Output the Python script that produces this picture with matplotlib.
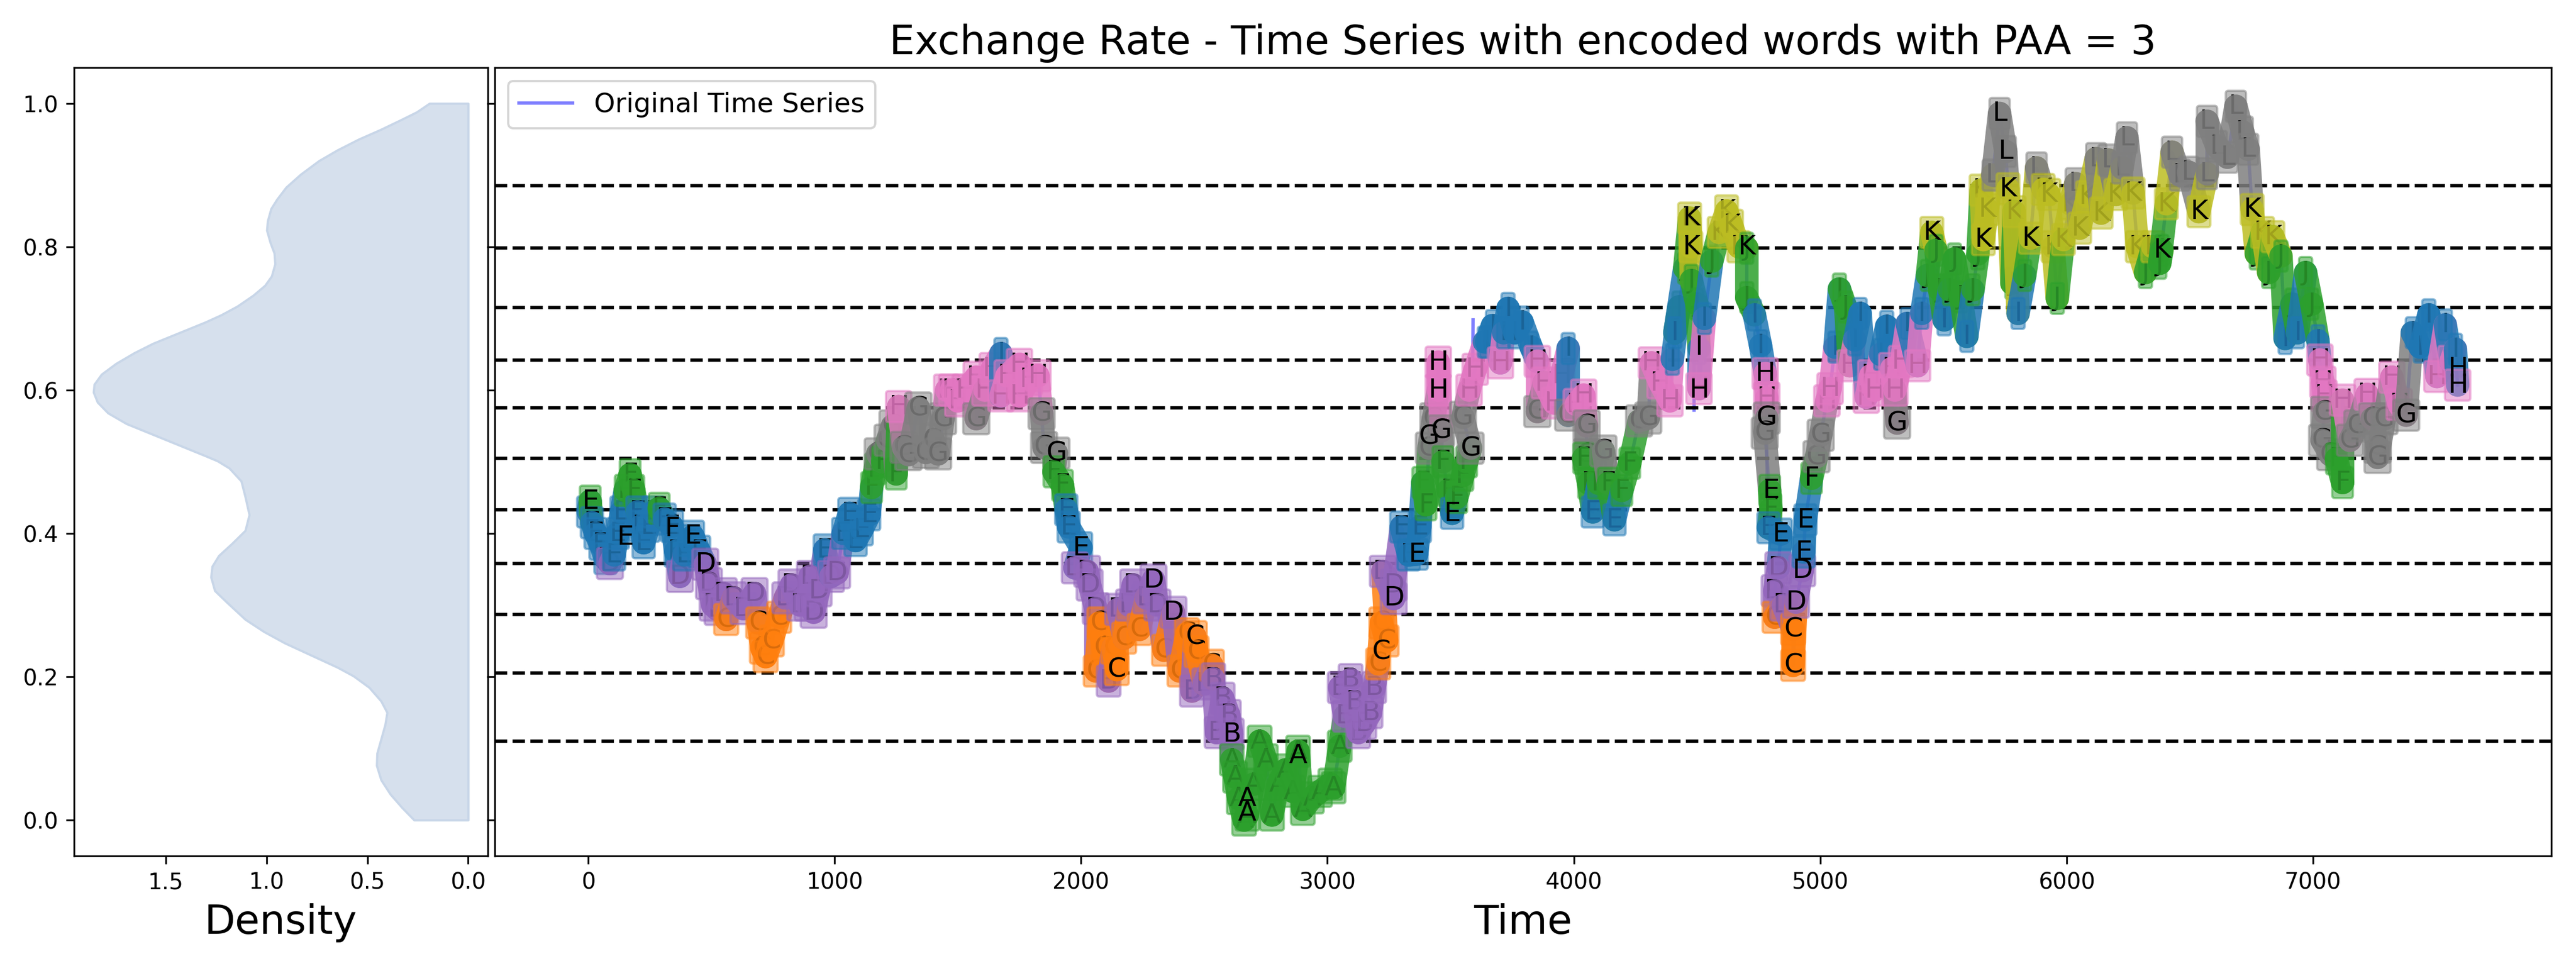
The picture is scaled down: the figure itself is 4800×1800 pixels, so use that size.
import numpy as np
import matplotlib
matplotlib.use("Agg")
import matplotlib.pyplot as plt

title = "Exchange Rate - Time Series with encoded words with PAA = 3"

thresholds = [0.110, 0.205, 0.287, 0.358, 0.433, 0.505, 0.575, 0.642, 0.715, 0.798, 0.885]
letters = ["A", "B", "C", "D", "E", "F", "G", "H", "I", "J", "K", "L"]
letter_colors = ["tab:green", "tab:purple", "tab:orange", "tab:purple", "tab:blue", "tab:green",
                 "tab:gray", "tab:pink", "tab:blue", "tab:green", "tab:olive", "tab:gray"]

time_a = [0, 8, 15, 30, 50, 70, 88, 105, 120, 135, 150, 170, 185, 200, 212, 225, 245, 265, 288, 310,
          340, 355, 372, 390, 410, 425, 450, 475, 490, 505, 525, 550, 560, 590, 630, 675, 690, 705, 720, 745,
          775, 800, 825, 860, 890, 900, 915, 935, 960, 985, 1010, 1035, 1060, 1085, 1110, 1140, 1150, 1165, 1175, 1195,
          1215, 1235, 1250, 1260, 1280, 1300, 1340, 1370, 1400, 1420, 1440, 1455, 1475, 1500, 1530, 1575, 1575, 1610, 1640, 1675,
          1675, 1700, 1750, 1750, 1790, 1825, 1840, 1850, 1900, 1890, 1925, 1940, 1950, 2000, 1975, 2025, 2035, 2060]
value_a = [.43, .445, .415, .40, .385, .365, .358, .37, .40, .43, .46, .482, .46, .43, .41, .387, .41, .43, .435, .42,
           .41, .375, .34, .37, .39, .396, .375, .357, .33, .30, .294, .316, .28, .31, .295, .316, .275, .24, .228, .25,
           .283, .31, .328, .30, .30, .34, .29, .32, .377, .34, .345, .40, .428, .39, .405, .426, .464, .49, .511, .50,
           .53, .55, .483, .577, .52, .51, .575, .513, .53, .511, .56, .60, .60, .585, .60, .618, .56, .60, .63, .651,
           .592, .62, .636, .592, .615, .62, .567, .52, .512, .486, .467, .433, .409, .38, .352, .347, .328, .295]

time_b = [2060, 2075, 2090, 2112, 2130, 2145, 2150, 2175, 2195, 2212, 2237, 2265, 2294, 2310, 2337, 2375, 2400, 2430, 2450, 2462,
          2469, 2500, 2531, 2537, 2550, 2575, 2600, 2612, 2612, 2625, 2640, 2662, 2675, 2700, 2725, 2750, 2775, 2800, 2830, 2860,
          2881, 2900, 2937, 2970, 3012, 3025, 3050, 3070, 3050, 3094, 3110, 3125, 3150, 3175, 3190, 3206, 3219, 3240, 3225, 3269,
          3269, 3300, 3330, 3362, 3375, 3387, 3400, 3412, 3430, 3450, 3450, 3462, 3469, 3490, 3506, 3525, 3550, 3565, 3581, 3550,
          3575, 3600, 3637]
value_b = [.208, .275, .24, .194, .24, .21, .294, .254, .30, .328, .266, .31, .335, .30, .237, .29, .208, .26, .18, .256,
           .235, .19, .216, .197, .122, .17, .146, .12, .084, .06, .03, .00, .007, .05, .11, .084, .007, .05, .07, .04,
           .096, .015, .031, .04, .05, .045, .103, .145, .185, .196, .165, .122, .135, .15, .185, .218, .275, .25, .347, .309,
           .328, .409, .37, .371, .409, .471, .44, .519, .56, .60, .639, .543, .50, .46, .428, .45, .481, .50, .519, .562,
           .60, .629, .667]

time_c = [3646, 3670, 3702, 3715, 3733, 3760, 3790, 3827, 3852, 3852, 3880, 3921, 3950, 3977, 3977, 4010, 4040, 4052, 4052, 4040,
          4060, 4077, 4100, 4120, 4140, 4165, 4195, 4227, 4265, 4302, 4315, 4350, 4390, 4400, 4427, 4410, 4450, 4470, 4475, 4477, 4500,
          4508, 4508, 4530, 4560, 4590, 4620, 4640, 4670, 4702, 4702, 4733, 4758, 4777, 4783, 4783, 4775, 4795, 4800, 4790, 4840,
          4830, 4815, 4815, 4850, 4890, 4890, 4902, 4927, 4933, 4940, 4965, 4985, 5002, 5027, 5040, 5060]
value_c = [.667, .69, .638, .68, .714, .68, .695, .66, .64, .57, .61, .582, .62, .658, .565, .58, .593, .55, .51, .505,
           .47, .43, .47, .515, .47, .419, .46, .498, .557, .561, .638, .61, .585, .643, .716, .68, .77, .84, .80, .753, .72,
           .658, .602, .70, .78, .82, .85, .83, .80, .798, .729, .705, .662, .623, .589, .561, .54, .46, .434, .408, .399,
           .352, .32, .283, .30, .266, .216, .304, .348, .374, .419, .477, .507, .537, .585, .602, .66]

time_d = [5078, 5103, 5120, 5140, 5162, 5187, 5205, 5220, 5245, 5270, 5290, 5312, 5303, 5330, 5353, 5395, 5412, 5435, 5453, 5470,
          5485, 5503, 5525, 5545, 5570, 5595, 5620, 5640, 5653, 5662, 5678, 5700, 5728, 5753, 5762, 5778, 5787, 5803, 5830, 5853,
          5878, 5905, 5928, 5945, 5962, 5987, 6015, 6037, 6053, 6085, 6120, 6140, 6170, 6200, 6225, 6245, 6270, 6287, 6320, 6350,
          6387, 6378, 6405, 6428, 6460, 6495, 6537, 6570, 6570, 6610, 6653, 6687, 6715, 6737, 6753, 6770, 6795, 6820, 6837, 6870,
          6887, 6915, 6937, 6970, 6995, 7020, 7028, 7040, 7045, 7045, 7037, 7070, 7095, 7120, 7120, 7150, 7180, 7220, 7240, 7262,
          7262, 7290, 7320, 7350, 7378, 7403, 7435, 7470, 7503, 7537, 7560, 7578, 7587]
value_d = [.741, .716, .634, .67, .707, .59, .62, .60, .65, .689, .63, .554, .60, .64, .693, .634, .707, .76, .82, .795,
           .74, .698, .74, .783, .73, .675, .74, .79, .879, .81, .852, .90, .986, .933, .881, .749, .849, .707, .76, .812,
           .91, .88, .873, .80, .728, .81, .86, .888, .826, .87, .923, .847, .921, .873, .91, .952, .875, .80, .764, .80,
           .795, .777, .86, .932, .90, .904, .849, .902, .975, .94, .925, .996, .96, .936, .852, .79, .82, .764, .814, .787,
           .672, .72, .68, .764, .72, .669, .642, .611, .592, .569, .53, .51, .504, .471, .586, .53, .55, .594, .56, .52,
           .506, .56, .618, .58, .565, .68, .66, .705, .619, .691, .64, .657, .607]

spike_time = [3590, 3591, 4487, 4488, 4783, 4784]
spike_value = [.64, .698, .731, .572, .529, .477]

clear_time = [8, 150, 340, 425, 475, 1900, 2000, 2145, 2294, 2375, 2462, 2612, 2675, 2675, 2881,
              3219, 3269, 3362, 3412, 3450, 3450, 3462, 3506, 3581, 4477, 4477, 4508, 4508, 4702, 4777,
              4783, 4800, 4840, 4890, 4890, 4902, 4927, 4933, 4940, 4965, 5312, 5453, 5662, 5728, 5753,
              5762, 5853, 6387, 6537, 6753, 7378, 7587, 7587]
clear_value = [.445, .395, .407, .396, .357, .512, .38, .21, .335, .29, .256, .12, .01, .03, .09,
               .235, .31, .371, .535, .639, .60, .543, .428, .519, .80, .84, .66, .60, .80, .623,
               .561, .46, .399, .266, .216, .304, .348, .374, .419, .477, .554, .82, .81, .986, .933,
               .881, .812, .795, .849, .852, .565, .607, .63]
clear_letter = ["E", "E", "F", "E", "D", "G", "E", "C", "D", "D", "C", "B", "A", "A", "A",
                "C", "D", "E", "G", "H", "H", "G", "E", "G", "K", "K", "I", "H", "K", "H",
                "G", "E", "E", "C", "C", "D", "D", "E", "E", "F", "G", "K", "K", "L", "L",
                "K", "K", "K", "K", "K", "G", "H", "H"]

density_values = [.268, .327, .386, .432, .454, .452, .432, .412, .402, .432, .491, .569, .648, .779, .910,
                  1.014, 1.106, 1.198, 1.257, 1.276, 1.270, 1.237, 1.171, 1.106, 1.086, 1.106, 1.126, 1.185, 1.243, 1.302,
                  1.433, 1.564, 1.695, 1.787, 1.839, 1.859, 1.855, 1.819, 1.747, 1.656, 1.564, 1.433, 1.302, 1.224, 1.145,
                  1.067, 1.008, .975, .958, .962, .982, .999, .995, .978, .949, .903, .831, .740, .648, .543,
                  .438, .334, .255, .192]
density_levels = [0, .017, .036, .056, .076, .093, .113, .133, .150, .166, .185, .201, .213, .230, .247,
                  .263, .280, .304, .320, .339, .354, .369, .386, .404, .426, .451, .473, .491, .501, .508,
                  .523, .538, .553, .568, .583, .597, .608, .622, .637, .652, .665, .680, .695, .705, .717,
                  .732, .746, .759, .776, .791, .806, .823, .836, .853, .866, .883, .901, .920, .935, .950,
                  .963, .977, .988, 1.0]

series_time = time_a + time_b + time_c + time_d
series_value = value_a + value_b + value_c + value_d


def band(v):
    return int(np.searchsorted(thresholds, v))


fig = plt.figure(figsize=(16, 6), dpi=300)
ax0 = fig.add_axes([0.0287, 0.114, 0.1607, 0.816])
ax1 = fig.add_axes([0.1920, 0.114, 0.7984, 0.816], sharey=ax0)

ax0.fill_betweenx(density_levels, 0, density_values, facecolor="#d6e0ed", edgecolor="#c8d6e8", linewidth=1.0)
ax0.set_xlim(1.956, -0.098)
ax0.set_xlabel("Density", fontsize=18)
ax0.set_ylim(-0.05, 1.05)
ax0.set_xticks([1.5, 1.0, 0.5, 0.0])
ax0.set_yticks([0, .2, .4, .6, .8, 1.0])

ax1.plot(series_time, series_value, color="blue", alpha=0.5, lw=1.5, zorder=1, label="Original Time Series")
for i in range(0, len(spike_time), 2):
    ax1.plot(spike_time[i:i + 2], spike_value[i:i + 2], color="blue", alpha=0.5, lw=1.5, zorder=1)

n = len(series_time)
for i, (t, v) in enumerate(zip(series_time, series_value)):
    k = band(v)
    ax1.text(t, v, letters[k], fontsize=12, ha="center", va="center", color="black", clip_on=True,
             zorder=3 + 2 * i,
             bbox=dict(facecolor=letter_colors[k], edgecolor=letter_colors[k], alpha=0.5,
                       boxstyle="round,pad=0.1", linewidth=1.0))
    if i + 1 < n:
        ax1.plot(series_time[i:i + 2], series_value[i:i + 2], color=letter_colors[k], lw=10.5, alpha=0.85,
                 solid_capstyle="round", zorder=4 + 2 * i)

top = 3 + 2 * n
for t, v, s in zip(clear_time, clear_value, clear_letter):
    ax1.text(t, v, s, fontsize=12, ha="center", va="center", color="black", clip_on=True, zorder=top)

for th in thresholds:
    ax1.axhline(th, color="black", linestyle="--", linewidth=1.5, zorder=2)

ax1.set_xlim(-380, 7967)
ax1.set_xlabel("Time", fontsize=18)
ax1.set_title(title, fontsize=18)
ax1.tick_params(axis="y", labelleft=False)
leg = ax1.legend(loc="upper left", fontsize=12)
leg.set_zorder(top + 1)

fig.savefig("out.png", dpi=300)
